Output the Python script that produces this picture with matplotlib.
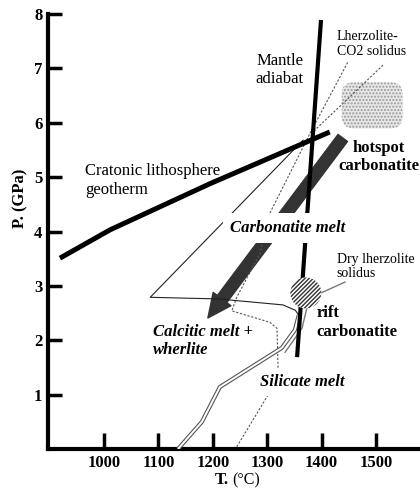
import matplotlib
matplotlib.use("Agg")
import matplotlib.pyplot as plt
from matplotlib.patches import Ellipse, FancyBboxPatch, FancyArrowPatch

plt.rcParams['font.family'] = ['Liberation Serif', 'DejaVu Serif']

# --- data (T in degC, P in GPa) ---
geotherm_T = [919, 1011, 1195, 1415]
geotherm_P = [3.51, 4.03, 4.88, 5.83]

adiabat_T = [1355, 1399]
adiabat_P = [1.69, 7.89]

co2_solidus_T = [1448, 1379, 1301, 1287, 1244, 1235, 1305, 1318, 1320, 1305, 1244]
co2_solidus_P = [7.11, 5.81, 4.26, 3.60, 2.79, 2.54, 2.33, 2.22, 1.51, 1.05, 0.04]

co2_leader_T = [1513, 1382]
co2_leader_P = [7.06, 5.81]

calcitic_T = [1366, 1085, 1210, 1329, 1352, 1358]
calcitic_P = [5.68, 2.79, 2.76, 2.65, 2.55, 2.46]

dry_solidus_T = [1136, 1180, 1213, 1327, 1351, 1358]
dry_solidus_P = [0.0, 0.50, 1.14, 1.86, 2.19, 2.46]

rift_tail_T = [1373, 1364, 1333]
rift_tail_P = [2.59, 2.22, 1.78]

dry_leader_T = [1443, 1399]
dry_leader_P = [3.07, 2.87]

arrow_start = (1439, 5.72)
arrow_end = (1191, 2.41)

hotspot_center = (1493, 6.32)
hotspot_size = (112, 0.85)
rift_center = (1371, 2.87)
rift_size = (57, 0.57)

x_ticks = [1000, 1100, 1200, 1300, 1400, 1500]
y_ticks = [1, 2, 3, 4, 5, 6, 7, 8]

fig = plt.figure(figsize=(4.2, 4.92), dpi=100)
ax = fig.add_axes([48 / 420, 43 / 492, 372 / 420, 435 / 492])
ax.set_xlim(897, 1581)
ax.set_ylim(0, 8)

for s in ['top', 'right']:
    ax.spines[s].set_visible(False)
for s in ['left', 'bottom']:
    ax.spines[s].set_linewidth(3)
ax.set_xticks(x_ticks)
ax.set_yticks(y_ticks)
ax.tick_params(axis='x', direction='in', length=11.5, width=2.5, pad=4, labelsize=12)
ax.tick_params(axis='y', direction='in', length=10, width=2.5, pad=4, labelsize=12)
for lab in ax.get_xticklabels() + ax.get_yticklabels():
    lab.set_fontweight('bold')

# arrow (carbonatite melt path)
arr = FancyArrowPatch(arrow_start, arrow_end, arrowstyle='simple,head_length=17,head_width=16,tail_width=8.5',
                      mutation_scale=1, color='#333333', shrinkA=0, shrinkB=0, zorder=2)
ax.add_patch(arr)

# hotspot stippled region
hx, hy = hotspot_center
hw, hh = hotspot_size
hot = FancyBboxPatch((hx - hw / 2, hy - hh / 2), hw, hh, boxstyle='round,pad=0,rounding_size=22',
                     mutation_aspect=0.01, facecolor='#e8e8e8', edgecolor='#9a9a9a', hatch='.....',
                     linewidth=0, zorder=3)
ax.add_patch(hot)

# thin lines
ax.plot(co2_solidus_T, co2_solidus_P, color='#555555', lw=0.8, dashes=(2, 1.5), zorder=4)
ax.plot(co2_leader_T, co2_leader_P, color='#555555', lw=0.8, dashes=(2, 1.5), zorder=4)
ax.plot(calcitic_T, calcitic_P, color='#222222', lw=0.8, zorder=4)
ax.plot(dry_solidus_T, dry_solidus_P, color='#555555', lw=3.0, zorder=4, solid_capstyle='butt')
ax.plot(dry_solidus_T, dry_solidus_P, color='white', lw=1.4, zorder=4, solid_capstyle='butt')
ax.plot(rift_tail_T, rift_tail_P, color='#777777', lw=1.0, zorder=4)
ax.plot(dry_leader_T, dry_leader_P, color='#777777', lw=1.0, zorder=4)

# thick lines
ax.plot(geotherm_T, geotherm_P, color='black', lw=3.6, zorder=5, solid_capstyle='butt')
ax.plot(adiabat_T, adiabat_P, color='black', lw=3.0, zorder=5, solid_capstyle='butt')

# rift hatched circle
rx, ry = rift_center
rw, rh = rift_size
rift = Ellipse((rx, ry), rw, rh, facecolor='white', edgecolor='#333333', hatch='////////',
               linewidth=0, zorder=6)
ax.add_patch(rift)

# labels
ax.text(965, 4.94, "Cratonic lithosphere\ngeotherm", fontsize=12, ha='left', va='center', zorder=7)
ax.text(1323, 6.97, "Mantle\nadiabat", fontsize=12, ha='center', va='center', zorder=7)
ax.text(1428, 7.45, "Lherzolite-\nCO2 solidus", fontsize=10, ha='left', va='center',
        linespacing=1.15, zorder=7)
ax.text(1505, 5.37, "hotspot\ncarbonatite", fontsize=12, fontweight='bold', ha='center', va='center',
        zorder=7, clip_on=False)
ax.text(1338, 4.06, "Carbonatite melt", fontsize=12, fontweight='bold', style='italic',
        ha='center', va='center', zorder=7,
        bbox=dict(facecolor='white', edgecolor='none', pad=5))
ax.text(1090, 1.99, "Calcitic melt +\nwherlite", fontsize=12, fontweight='bold', style='italic',
        ha='left', va='center', zorder=7)
ax.text(1390, 2.33, "rift\ncarbonatite", fontsize=12, fontweight='bold', ha='left', va='center', zorder=7)
ax.text(1364, 1.23, "Silicate melt", fontsize=12, fontweight='bold', style='italic',
        ha='center', va='center', zorder=7,
        bbox=dict(facecolor='white', edgecolor='none', pad=4))
ax.text(1428, 3.36, "Dry lherzolite\nsolidus", fontsize=10, ha='left', va='center',
        linespacing=1.05, zorder=7)

# axis titles
fig.text(20 / 420, 1 - 198 / 492, "P. (GPa)", fontsize=12, fontweight='bold', rotation=90,
         ha='center', va='center')
fig.text(229 / 420, 1 - 480 / 492, "T.", fontsize=12, fontweight='bold', ha='right', va='center')
fig.text(232 / 420, 1 - 480 / 492, "(\u00b0C)", fontsize=11.5, ha='left', va='center')

fig.savefig("out.png", dpi=100)
